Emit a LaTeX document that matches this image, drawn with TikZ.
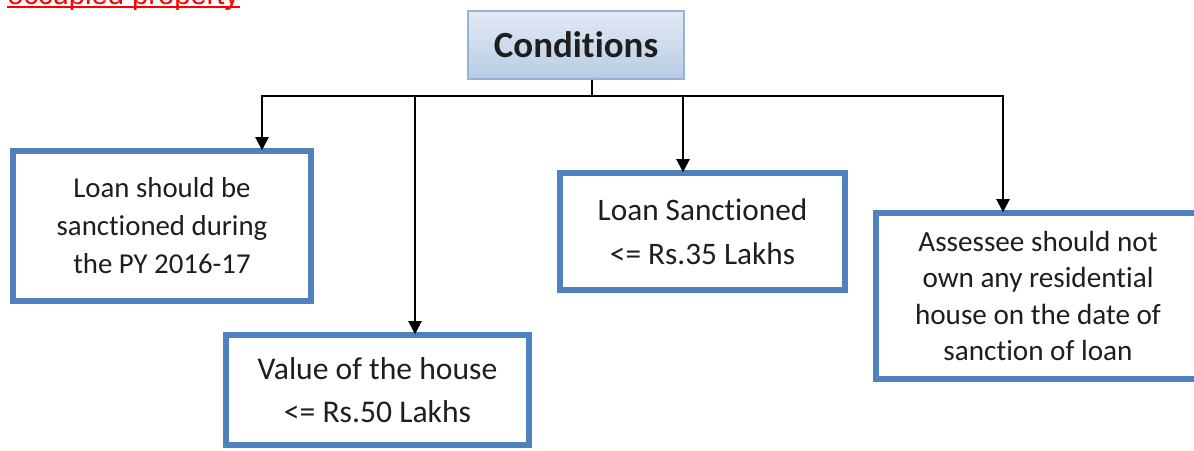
\documentclass[tikz,border=0pt]{standalone}
\usepackage{fontspec}
\setmainfont[Ligatures={NoCommon}]{Carlito}
\newfontfamily\arialfont{Liberation Sans}
\usetikzlibrary{arrows.meta}
\definecolor{boxblue}{HTML}{4F81BD}
\definecolor{condline}{HTML}{95B3D7}
\definecolor{condtop}{HTML}{E2EAF5}
\definecolor{condbot}{HTML}{B8CCE4}
\definecolor{txt}{HTML}{1E1E1E}
\tikzset{
  condbox/.style={draw=condline, line width=1pt, top color=condtop, bottom color=condbot,
    inner sep=0pt, font=\fontsize{21}{25}\selectfont\bfseries, text=txt},
  bluebox/.style={draw=boxblue, line width=3.3pt, fill=white, inner sep=0pt, align=center, text=txt},
  conn/.style={draw=black, line width=1.25pt, line join=miter},
  arr/.style={conn, -{Triangle[width=7.5pt,length=7.5pt]}, shorten >=-1.2pt},
}
\begin{document}
\begin{tikzpicture}[x=0.02cm, y=-0.02cm]
\useasboundingbox (0,0) rectangle (1194,450);
% cut-off red heading
\node[anchor=base west, inner sep=0pt, text=red, font=\arialfont\fontsize{16.6}{20}\selectfont] (occ) at (7,4) {occupied property};
\draw[red, line width=1.1pt] ([yshift=-1.6pt]occ.base west) -- ([yshift=-1.6pt]occ.base east);
% Conditions
\node[condbox, minimum width=216*0.02cm, minimum height=68*0.02cm] (cond) at (576,45) {Conditions};
% boxes
\node[bluebox, minimum width=298*0.02cm, minimum height=150*0.02cm, font=\fontsize{16.4}{21.6}\selectfont] (b1) at (162,226)
  {Loan should be\\sanctioned during\\the PY 2016-17};
\node[bluebox, minimum width=303*0.02cm, minimum height=110*0.02cm, font=\fontsize{18}{24.4}\selectfont] (b2) at (377.5,390)
  {Value of the house\\\textless= Rs.50 Lakhs};
\node[bluebox, minimum width=285*0.02cm, minimum height=117*0.02cm, font=\fontsize{17.8}{25}\selectfont] (b3) at (702.5,231.5)
  {Loan Sanctioned\\\textless= Rs.35 Lakhs};
\node[bluebox, minimum width=324*0.02cm, minimum height=166*0.02cm, font=\fontsize{16.6}{20.7}\selectfont] (b4) at (1038,296)
  {Assessee should not\\own any residential\\house on the date of\\sanction of loan};
% connectors
\coordinate (j) at (592,96);
\coordinate (a1) at (262,96);
\coordinate (a2) at (415,96);
\coordinate (a3) at (683,96);
\coordinate (a4) at (1003,96);
\draw[conn] (cond.south -| j) -- (j);
\draw[arr] (j) -- (a1) -- (a1 |- b1.north);
\draw[arr] (j) -- (a4) -- (a4 |- b4.north);
\draw[arr] (a2) -- (a2 |- b2.north);
\draw[arr] (a3) -- (a3 |- b3.north);
\end{tikzpicture}
\end{document}
